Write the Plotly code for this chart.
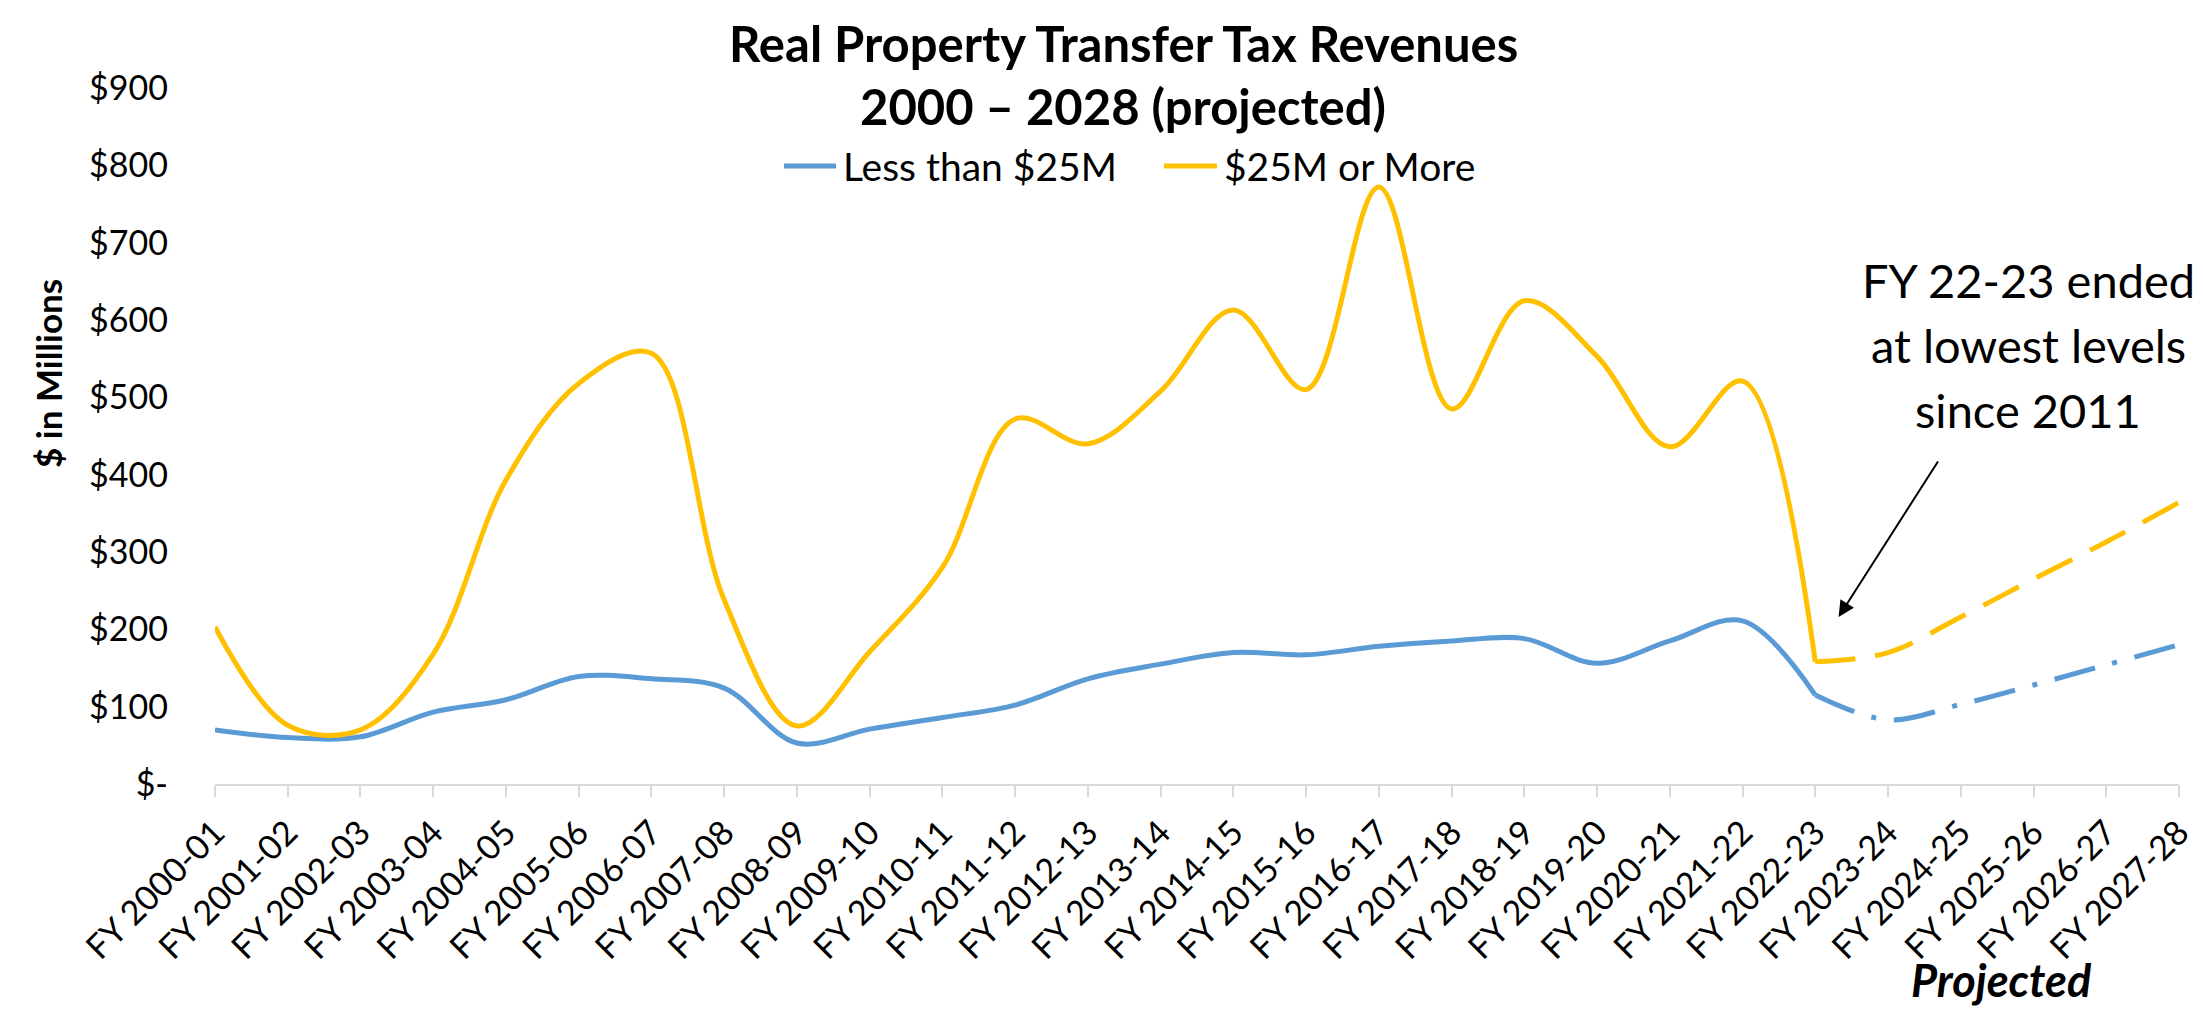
import plotly.graph_objects as go

categories = ["FY 2000-01", "FY 2001-02", "FY 2002-03", "FY 2003-04", "FY 2004-05",
              "FY 2005-06", "FY 2006-07", "FY 2007-08", "FY 2008-09", "FY 2009-10",
              "FY 2010-11", "FY 2011-12", "FY 2012-13", "FY 2013-14", "FY 2014-15",
              "FY 2015-16", "FY 2016-17", "FY 2017-18", "FY 2018-19", "FY 2019-20",
              "FY 2020-21", "FY 2021-22", "FY 2022-23", "FY 2023-24", "FY 2024-25",
              "FY 2025-26", "FY 2026-27", "FY 2027-28"]
less_than_25m = [70, 60, 61, 93, 109, 139, 136, 124, 53, 71, 86, 102, 136, 155, 170,
                 167, 178, 185, 188, 156, 185, 211, 115, 83, 103, 128, 154, 180]
over_25m = [203, 76, 70, 168, 393, 518, 557, 238, 75, 171, 280, 472, 440, 508, 613,
            510, 772, 485, 625, 553, 436, 521, 158, 170, 216, 265, 313, 364]
series_names = ["Less than $25M", "$25M or More"]
last_actual = 22  # FY 2022-23; later years are projected
y_tick_vals = [0, 100, 200, 300, 400, 500, 600, 700, 800, 900]
y_tick_text = ["$-", "$100", "$200", "$300", "$400", "$500", "$600", "$700", "$800", "$900"]

BLUE = "#5B9BD5"
GOLD = "#FFC000"
FONT = "Lato"

xs = list(range(len(categories)))
fig = go.Figure()

fig.add_trace(go.Scatter(x=xs[:last_actual + 1], y=less_than_25m[:last_actual + 1],
                         mode="lines", name=series_names[0], showlegend=False,
                         line=dict(color=BLUE, width=5, shape="spline")))
fig.add_trace(go.Scatter(x=xs[:last_actual + 1], y=over_25m[:last_actual + 1],
                         mode="lines", name=series_names[1], showlegend=False,
                         line=dict(color=GOLD, width=5, shape="spline")))
fig.add_trace(go.Scatter(x=xs[last_actual:], y=less_than_25m[last_actual:],
                         mode="lines", name=series_names[0] + " (projected)", showlegend=False,
                         line=dict(color=BLUE, width=5, shape="spline",
                                   dash="42px,18px,5px,18px")))
fig.add_trace(go.Scatter(x=xs[last_actual:], y=over_25m[last_actual:],
                         mode="lines", name=series_names[1] + " (projected)", showlegend=False,
                         line=dict(color=GOLD, width=5, shape="spline",
                                   dash="40px,20px")))

W, H = 2203, 1009
L, R, T, B = 207, 32, 80, 233
pw, ph = W - L - R, H - T - B

def px(xp):
    return (xp - L) / pw

def py(yp):
    return (H - B - yp) / ph

def text_ann(text, x, y, size, xanchor="center", angle=0):
    return dict(text=text, x=px(x), y=py(y), xref="paper", yref="paper", showarrow=False,
                textangle=angle, font=dict(size=size, color="black", family=FONT),
                xanchor=xanchor, yanchor="middle")

annotations = [
    text_ann("<b>Real Property Transfer Tax Revenues</b>", 1115, 35, 49),
    text_ann("<b>2000 – 2028 (projected)</b>", 1115, 98, 49),
    text_ann("<b>$ in Millions</b>", 40, 366, 35, angle=-90),
    text_ann("<b><i>Projected</i></b>", 1993, 972, 45),
    text_ann("FY 22-23 ended", 2020, 272, 47),
    text_ann("at lowest levels", 2020, 337, 47),
    text_ann("since 2011", 2020, 402, 47),
    # legend entries
    text_ann(series_names[0], 833, 158, 39, xanchor="left"),
    text_ann(series_names[1], 1214, 158, 39, xanchor="left"),
    dict(text="", x=22.32, y=216, ax=23.70, ay=419, xref="x", yref="y", axref="x", ayref="y",
         showarrow=True, arrowhead=2, arrowsize=1.6, arrowwidth=2, arrowcolor="black"),
]

shapes = [
    dict(type="line", xref="paper", yref="paper", x0=px(776), x1=px(828), y0=py(158), y1=py(158),
         line=dict(color=BLUE, width=5)),
    dict(type="line", xref="paper", yref="paper", x0=px(1156), x1=px(1209), y0=py(158), y1=py(158),
         line=dict(color=GOLD, width=5)),
]

fig.update_layout(
    width=W, height=H, autosize=False,
    margin=dict(l=L, r=R, t=T, b=B, pad=0),
    paper_bgcolor="white", plot_bgcolor="white",
    font=dict(family=FONT, color="black"),
    showlegend=False,
    annotations=annotations,
    shapes=shapes,
    xaxis=dict(range=[0, len(categories) - 1], tickvals=xs, ticktext=categories,
               tickangle=-45, tickfont=dict(size=34, family=FONT, color="black"),
               showgrid=False, zeroline=False, showline=True, linecolor="#D9D9D9", linewidth=2,
               ticks="outside", ticklen=11, tickwidth=2, tickcolor="#D9D9D9",
               ticklabelstandoff=2, fixedrange=True),
    yaxis=dict(range=[0, 900], tickvals=y_tick_vals, ticktext=y_tick_text,
               tickfont=dict(size=34, family=FONT, color="black"),
               showgrid=False, zeroline=False, showline=False, ticks="",
               ticklabelstandoff=46, fixedrange=True),
)

fig.write_html("out.html")
